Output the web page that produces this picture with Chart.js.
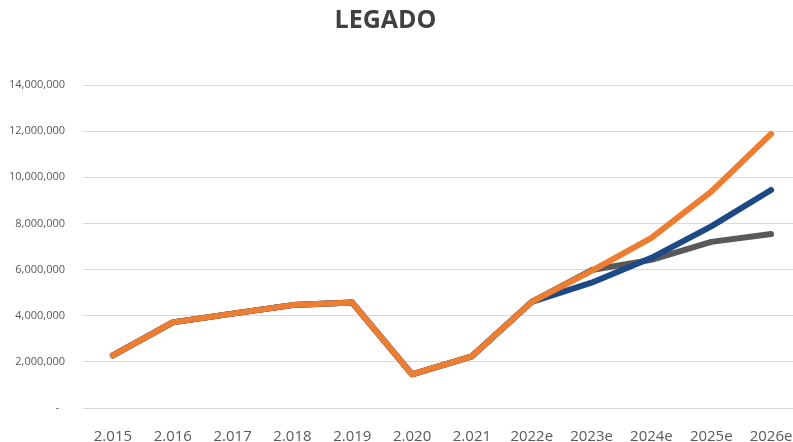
<!DOCTYPE html>
<html>
<head>
<meta charset="utf-8">
<script src="https://cdn.jsdelivr.net/npm/chart.js@4"></script>
<style>
    html, body { margin: 0; padding: 0; background: #fff; overflow: hidden; }
    body { width: 793px; height: 442px; position: relative; }
    #wrap { position: absolute; left: -30px; top: 0; width: 831px; height: 442px; }
</style>
</head>
<body>
<div id="wrap"><canvas id="legado-chart"></canvas></div>
<script>
const years = ['2.015', '2.016', '2.017', '2.018', '2.019', '2.020', '2.021', '2022e', '2023e', '2024e', '2025e', '2026e'];

const grayValues = [2280000, 3710000, 4090000, 4460000, 4570000, 1460000, 2240000, 4600000, 5980000, 6420000, 7200000, 7540000];
const blueValues = [2280000, 3710000, 4090000, 4460000, 4570000, 1460000, 2240000, 4600000, 5430000, 6510000, 7870000, 9450000];
const orangeValues = [2280000, 3710000, 4090000, 4460000, 4570000, 1460000, 2240000, 4600000, 5940000, 7370000, 9380000, 11880000];

const yMax = 14000000;
const yStep = 2000000;

document.addEventListener("DOMContentLoaded", function () {
    const ctx = document.getElementById("legado-chart").getContext("2d");

    function lineSet(label, data, color) {
        return {
            label,
            data,
            borderColor: color,
            backgroundColor: color,
            borderWidth: 6,
            borderCapStyle: 'round',
            borderJoinStyle: 'round',
            pointRadius: 0,
            tension: 0,
            fill: false
        };
    }

    new Chart(ctx, {
        type: 'line',
        data: {
            labels: years,
            // gray at the bottom, orange drawn last on top
            datasets: [
                lineSet('Gris', grayValues, '#595959'),
                lineSet('Azul', blueValues, '#1d4a86'),
                lineSet('Naranja', orangeValues, '#ed7d31')
            ].map((d, i) => Object.assign(d, { order: 3 - i }))
        },
        options: {
            responsive: true,
            maintainAspectRatio: false,
            animation: false,
            layout: { padding: 0 },
            plugins: {
                legend: { display: false },
                tooltip: { enabled: false },
                title: {
                    display: true,
                    text: 'LEGADO',
                    color: '#404040',
                    font: { family: 'Open Sans', size: 25, weight: 'bold' },
                    padding: { top: 6, bottom: 49 }
                }
            },
            scales: {
                x: {
                    type: 'category',
                    offset: true,
                    grid: { display: false, drawTicks: false },
                    border: { display: false },
                    ticks: {
                        color: '#595959',
                        font: { family: 'Open Sans', size: 15 },
                        padding: 20,
                        maxRotation: 0,
                        autoSkip: false
                    },
                    afterFit: function (scale) {
                        scale.height = 34;
                        scale.paddingLeft = 0;
                        scale.paddingRight = 0;
                    }
                },
                y: {
                    min: 0,
                    max: yMax,
                    grid: { color: '#d9d9d9', lineWidth: 1, drawTicks: false },
                    border: { display: false },
                    ticks: {
                        stepSize: yStep,
                        color: '#595959',
                        font: { family: 'Open Sans', size: 11 },
                        padding: 18,
                        callback: function (v) {
                            return v === 0 ? '-  ' : v.toLocaleString('en-US');
                        }
                    },
                    afterFit: function (scale) { scale.width = 113; }
                }
            }
        }
    });
});
</script>
</body>
</html>
